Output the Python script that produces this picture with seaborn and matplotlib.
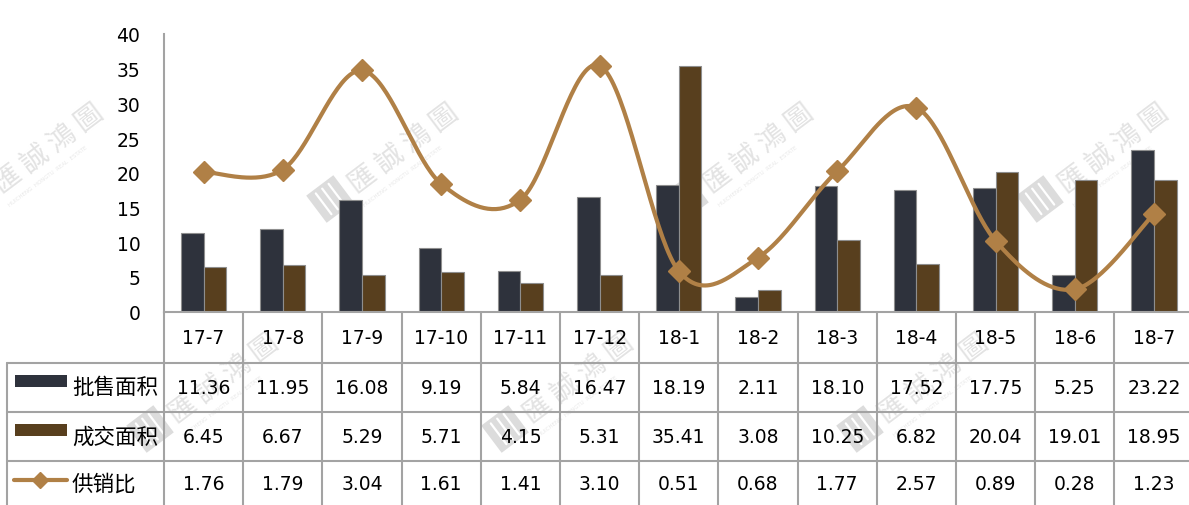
import numpy as np
import pandas as pd
import matplotlib
matplotlib.use("Agg")
import matplotlib.pyplot as plt
import matplotlib.transforms as mtransforms
from matplotlib.lines import Line2D
from matplotlib.patches import Rectangle
import seaborn as sns

# ---- data -------------------------------------------------------------
months = ["17-7", "17-8", "17-9", "17-10", "17-11", "17-12", "18-1",
          "18-2", "18-3", "18-4", "18-5", "18-6", "18-7"]
approved_area = [11.36, 11.95, 16.08, 9.19, 5.84, 16.47, 18.19,
                 2.11, 18.10, 17.52, 17.75, 5.25, 23.22]
deal_area = [6.45, 6.67, 5.29, 5.71, 4.15, 5.31, 35.41,
             3.08, 10.25, 6.82, 20.04, 19.01, 18.95]
supply_ratio = [1.76, 1.79, 3.04, 1.61, 1.41, 3.10, 0.51,
                0.68, 1.77, 2.57, 0.89, 0.28, 1.23]
series_names = ["批售面积", "成交面积", "供销比"]
y_ticks = [0, 5, 10, 15, 20, 25, 30, 35, 40]

# ---- style ------------------------------------------------------------
sns.set_theme(style="white")
plt.rcParams["font.family"] = ["DejaVu Sans", "Noto Sans CJK SC"]
CJK = ["Noto Sans CJK SC", "DejaVu Sans"]

DARK = "#2E323C"
BROWN = "#583F1E"
GOLD = "#B08046"
GRID = "#A3A3A3"
WM = "#E3E3E3"

W, H = 1189, 506
fig = plt.figure(figsize=(W / 100, H / 100), dpi=100)
fig.patch.set_facecolor("white")


def fy(py):
    return (H - py) / H


# ---- watermark layer --------------------------------------------------
bg = fig.add_axes([0, 0, 1, 1], zorder=0)
bg.set_xlim(0, W)
bg.set_ylim(H, 0)
bg.axis("off")
logo_spots = [(-25, 200), (330, 200), (685, 200), (1040, 200),
              (150, 430), (505, 430), (860, 430)]
for lx, ly in logo_spots:
    rot = mtransforms.Affine2D().rotate_deg_around(lx, ly, -37) + bg.transData
    bg.add_patch(Rectangle((lx - 17, ly - 17), 34, 34, facecolor="#DCDCDC",
                           edgecolor="none", transform=rot))
    for k in (-8, 0, 8):
        bg.add_line(Line2D([lx + k, lx + k], [ly - 13, ly + 13], color="white",
                           lw=1.6, transform=rot))
    bg.text(lx + 22, ly - 12, "匯 誠 鴻 圖", rotation=37, rotation_mode="anchor",
            ha="left", va="center", fontsize=20, color=WM, family=CJK)
    bg.text(lx + 34, ly + 6, "HUICHENG  HONGTU  REAL  ESTATE", rotation=37,
            rotation_mode="anchor", ha="left", va="center", fontsize=4,
            color="#E8E8E8")

# ---- main chart -------------------------------------------------------
left_px, right_px, top_px, base_px = 164, 1193.6, 35, 312.5
ax = fig.add_axes([left_px / W, fy(base_px), (right_px - left_px) / W,
                   (base_px - top_px) / H], zorder=2)
ax.patch.set_alpha(0)

df = pd.DataFrame({
    "month": months * 2,
    "value": approved_area + deal_area,
    "series": [series_names[0]] * len(months) + [series_names[1]] * len(months),
})
sns.barplot(data=df, x="month", y="value", hue="series", order=months,
            hue_order=series_names[:2], palette=[DARK, BROWN], saturation=1,
            width=0.57, edgecolor="#8E8E8E", linewidth=0.8, legend=False, ax=ax)
ax.set_xlim(-0.5, len(months) - 0.5)
ax.set_ylim(0, 40)
ax.set_yticks(y_ticks)
ax.set_yticklabels([str(t) for t in y_ticks])
ax.set_xlabel("")
ax.set_ylabel("")
ax.tick_params(axis="x", labelbottom=False, length=0)
ax.tick_params(axis="y", length=0, pad=17, labelsize=13.5, labelcolor="black")
for s in ("top", "right"):
    ax.spines[s].set_visible(False)
for s in ("left", "bottom"):
    ax.spines[s].set_color(GRID)
    ax.spines[s].set_linewidth(1.5)

# supply/sales ratio on a hidden secondary scale, smoothed curve
ax2 = ax.twinx()
ax2.set_ylim(0, 3.5)
ax2.axis("off")


def smooth_curve(xs, ys, n=40):
    xs = np.asarray(xs, float)
    ys = np.asarray(ys, float)
    px, py = [], []
    m = len(xs)
    for i in range(m - 1):
        p0 = np.array([xs[max(i - 1, 0)], ys[max(i - 1, 0)]])
        p1 = np.array([xs[i], ys[i]])
        p2 = np.array([xs[i + 1], ys[i + 1]])
        p3 = np.array([xs[min(i + 2, m - 1)], ys[min(i + 2, m - 1)]])
        c1 = p1 + (p2 - p0) / 6.0
        c2 = p2 - (p3 - p1) / 6.0
        t = np.linspace(0, 1, n)[:, None]
        seg = ((1 - t) ** 3) * p1 + 3 * ((1 - t) ** 2) * t * c1 \
            + 3 * (1 - t) * t ** 2 * c2 + t ** 3 * p2
        px.extend(seg[:, 0])
        py.extend(seg[:, 1])
    return np.array(px), np.array(py)


xpos = np.arange(len(months))
cx, cy = smooth_curve(xpos, supply_ratio)
ax2.plot(cx, cy, color=GOLD, lw=3, solid_capstyle="round", zorder=3)
ax2.plot(xpos, supply_ratio, linestyle="none", marker="D", ms=11,
         color=GOLD, zorder=4)

# ---- data table -------------------------------------------------------
trans = mtransforms.blended_transform_factory(ax.transData, fig.transFigure)
row_lines = [364, 413, 462]
header_y = 338.5
row_y = [388.5, 437.5, 484.5]


def hline(py, x0=7, x1=W + 10):
    fig.add_artist(Line2D([x0 / W, x1 / W], [fy(py), fy(py)], color=GRID,
                          lw=1.5, transform=fig.transFigure, zorder=3))


for py in row_lines:
    hline(py)
fig.add_artist(Line2D([7 / W, 7 / W], [fy(364), fy(H + 5)], color=GRID, lw=1.5,
                      transform=fig.transFigure, zorder=3))
for i in range(len(months) + 1):
    xb = i - 0.5
    fig.add_artist(Line2D([xb, xb], [fy(base_px), fy(H + 5)], color=GRID, lw=1.5,
                          transform=trans, zorder=3))

for i, m in enumerate(months):
    fig.text(i, fy(header_y), m, transform=trans, ha="center", va="center",
             fontsize=13.5, color="black", zorder=4)
    for r, vals in enumerate([approved_area, deal_area, supply_ratio]):
        fig.text(i, fy(row_y[r]), f"{vals[i]:.2f}", transform=trans,
                 ha="center", va="center", fontsize=13.5, color="black", zorder=4)

# legend keys in the first column
for r, col in enumerate([DARK, BROWN]):
    fig.add_artist(Rectangle((15 / W, fy(row_y[r] - 0.5)), 52 / W, 12 / H,
                             facecolor=col, edgecolor="none",
                             transform=fig.transFigure, zorder=4))
fig.add_artist(Line2D([14 / W, 67 / W], [fy(row_y[2] - 4)] * 2, color=GOLD, lw=3,
                      transform=fig.transFigure, zorder=4))
fig.add_artist(Line2D([40 / W], [fy(row_y[2] - 4)], color=GOLD, marker="D", ms=8,
                      linestyle="none", transform=fig.transFigure, zorder=5))
for r, name in enumerate(series_names):
    fig.text(72 / W, fy(row_y[r]), name, ha="left", va="center",
             fontsize=15.5, family=CJK, color="black", zorder=4)

fig.savefig("out.png", dpi=100, facecolor="white")
